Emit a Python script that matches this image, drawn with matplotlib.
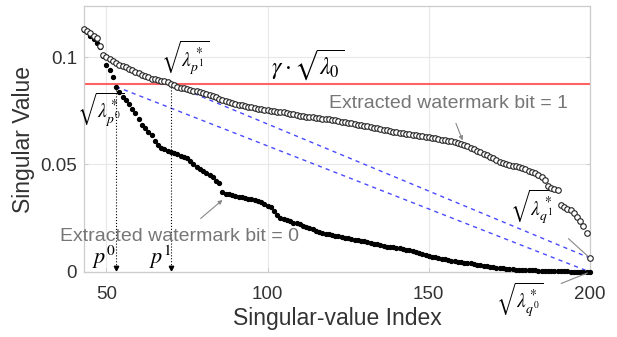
import numpy as np
import matplotlib.pyplot as plt

plt.rcParams['font.family'] = ['Liberation Sans', 'DejaVu Sans']
plt.rcParams['mathtext.fontset'] = 'stix'

# singular-value indices shown on the chart
idx = np.arange(43, 201)

# extracted watermark bit = 1 (open circles)
bit1 = [0.1130, 0.1120, 0.1110, 0.1100, 0.1090, 0.1050, 0.1010, 0.1000, 0.0990, 0.0980,
        0.0970, 0.0965, 0.0960, 0.0953, 0.0946, 0.0940, 0.0932, 0.0925, 0.0917, 0.0910,
        0.0905, 0.0900, 0.0897, 0.0894, 0.0890, 0.0887, 0.0882, 0.0875, 0.0868, 0.0862,
        0.0858, 0.0854, 0.0850, 0.0847, 0.0843, 0.0840, 0.0837, 0.0833, 0.0828, 0.0823,
        0.0818, 0.0812, 0.0806, 0.0800, 0.0796, 0.0791, 0.0786, 0.0782, 0.0779, 0.0775,
        0.0772, 0.0769, 0.0766, 0.0763, 0.0760, 0.0757, 0.0755, 0.0752, 0.0750, 0.0748,
        0.0746, 0.0744, 0.0742, 0.0740, 0.0737, 0.0733, 0.0730, 0.0727, 0.0725, 0.0723,
        0.0721, 0.0719, 0.0717, 0.0715, 0.0713, 0.0711, 0.0710, 0.0708, 0.0705, 0.0702,
        0.0699, 0.0696, 0.0694, 0.0691, 0.0688, 0.0685, 0.0682, 0.0680, 0.0677, 0.0674,
        0.0671, 0.0668, 0.0665, 0.0662, 0.0659, 0.0656, 0.0653, 0.0650, 0.0647, 0.0645,
        0.0642, 0.0640, 0.0637, 0.0635, 0.0633, 0.0631, 0.0629, 0.0627, 0.0624, 0.0622,
        0.0619, 0.0616, 0.0613, 0.0610, 0.0607, 0.0604, 0.0601, 0.0597, 0.0592, 0.0586,
        0.0579, 0.0572, 0.0563, 0.0556, 0.0549, 0.0543, 0.0536, 0.0528, 0.0520, 0.0512,
        0.0507, 0.0503, 0.0499, 0.0495, 0.0491, 0.0487, 0.0482, 0.0477, 0.0472, 0.0466,
        0.0459, 0.0451, 0.0440, 0.0428, 0.0398, 0.0392, 0.0386, 0.0380, 0.0310, 0.0302,
        0.0295, 0.0287, 0.0272, 0.0256, 0.0235, 0.0212, 0.0180, 0.0065]

# extracted watermark bit = 0 (filled dots)
bit0 = [0.1125, 0.1115, 0.1100, 0.1085, 0.1065, 0.1047, 0.1003, 0.0963, 0.0940, 0.0905,
        0.0862, 0.0835, 0.0815, 0.0800, 0.0780, 0.0760, 0.0740, 0.0712, 0.0685, 0.0668,
        0.0652, 0.0635, 0.0610, 0.0590, 0.0577, 0.0570, 0.0563, 0.0558, 0.0553, 0.0547,
        0.0541, 0.0535, 0.0528, 0.0515, 0.0500, 0.0486, 0.0478, 0.0470, 0.0462, 0.0451,
        0.0440, 0.0425, 0.0413, 0.0370, 0.0365, 0.0361, 0.0357, 0.0353, 0.0350, 0.0347,
        0.0344, 0.0341, 0.0338, 0.0335, 0.0331, 0.0325, 0.0318, 0.0308, 0.0300, 0.0285,
        0.0265, 0.0252, 0.0245, 0.0240, 0.0235, 0.0230, 0.0226, 0.0222, 0.0216, 0.0210,
        0.0204, 0.0198, 0.0192, 0.0187, 0.0182, 0.0178, 0.0175, 0.0172, 0.0169, 0.0166,
        0.0163, 0.0160, 0.0157, 0.0154, 0.0151, 0.0148, 0.0145, 0.0142, 0.0139, 0.0136,
        0.0132, 0.0128, 0.0124, 0.0121, 0.0118, 0.0116, 0.0114, 0.0112, 0.0110, 0.0107,
        0.0104, 0.0101, 0.0097, 0.0093, 0.0089, 0.0085, 0.0080, 0.0075, 0.0071, 0.0068,
        0.0065, 0.0062, 0.0059, 0.0056, 0.0053, 0.0050, 0.0048, 0.0046, 0.0044, 0.0042,
        0.0040, 0.0037, 0.0034, 0.0031, 0.0028, 0.0026, 0.0024, 0.0022, 0.0020, 0.0019,
        0.0017, 0.0015, 0.0013, 0.0012, 0.0011, 0.0010, 0.0009, 0.0008, 0.0008, 0.0007,
        0.0007, 0.0006, 0.0006, 0.0005, 0.0005, 0.0004, 0.0004, 0.0004, 0.0003, 0.0003,
        0.0003, 0.0002, 0.0002, 0.0002, 0.0001, 0.0001, 0.0001, 0.0000]

threshold = 0.0873   # gamma * sqrt(lambda_0)
p0 = 53
p1 = 70

bit0 = np.array(bit0)
bit1 = np.array(bit1)
i_p0 = p0 - idx[0]
i_p1 = p1 - idx[0]

fig = plt.figure(figsize=(6.17, 3.37), dpi=100)
ax = fig.add_axes([0.136, 0.193, 0.820, 0.789])

# threshold line
ax.axhline(threshold, color='#ff6262', lw=1.5, zorder=2)

# dashed lines from p to q points
ax.plot([idx[i_p1], idx[-1]], [bit1[i_p1], bit1[-1]], ls=(0, (3, 3)), color='#4a4aff', lw=1, zorder=2)
ax.plot([idx[i_p0], idx[-1]], [bit0[i_p0], bit0[-1]], ls=(0, (3, 3)), color='#4a4aff', lw=1, zorder=2)

# the two series
ax.plot(idx, bit0, 'o', color='black', ms=2.8, zorder=3, clip_on=False)
ax.plot(idx, bit1, 'o', mfc='white', mec='#222222', mew=0.8, ms=4, zorder=4, clip_on=False)

# dotted drops to p0 and p1
for i in (i_p0, i_p1):
    y = bit0[i] if i == i_p0 else bit1[i]
    ax.plot([idx[i], idx[i]], [y, 0.0012], ls=':', color='black', lw=0.8, zorder=2)
    ax.plot(idx[i], 0.0018, marker='v', color='black', ms=3.2, zorder=5)

ax.set_xlim(43, 200)
ax.set_ylim(0, 0.1237)
ax.set_xticks([50, 100, 150, 200])
ax.set_yticks([0, 0.05, 0.1])
ax.set_yticklabels(['0', '0.05', '0.1'])
ax.grid(True, color='#e8e8e8', lw=0.8)
ax.set_axisbelow(True)
for s in ax.spines.values():
    s.set_color('#cccccc')
    s.set_linewidth(0.9)
ax.tick_params(direction='in', length=3, color='#cccccc', labelsize=13.5, labelcolor='#333333',
               right=True, top=False)
ax.tick_params(axis='x', pad=10)
ax.tick_params(axis='y', pad=5)
ax.set_xlabel('Singular-value Index', fontsize=16.5, color='#333333', labelpad=3)
ax.set_ylabel('Singular Value', fontsize=16.5, color='#333333', labelpad=4)

# math annotations
ax.text(112.5, 0.0885, r'$\gamma \cdot \sqrt{\lambda_0}$', fontsize=17, ha='center', va='bottom')
ax.text(74.4, 0.0995, r'$\sqrt{\lambda^*_{p^1}}$', fontsize=14, ha='center', va='center')
ax.text(48.2, 0.0753, r'$\sqrt{\lambda^*_{p^0}}$', fontsize=14, ha='center', va='center')
ax.text(p0, 0.0005, r'$p^0$', fontsize=16, ha='right', va='bottom')
ax.text(p1, 0.0005, r'$p^1$', fontsize=16, ha='right', va='bottom')

ax.annotate(r'$\sqrt{\lambda^*_{q^1}}$', xy=(idx[-1], bit1[-1]), xytext=(182.8, 0.0298),
            fontsize=14, ha='center', va='center',
            arrowprops=dict(arrowstyle='-', color='#888888', lw=0.8, shrinkA=9, shrinkB=2))
ax.annotate(r'$\sqrt{\lambda^*_{q^0}}$', xy=(idx[-1], bit0[-1]), xytext=(178.4, -0.013),
            fontsize=14, ha='center', va='center', annotation_clip=False,
            arrowprops=dict(arrowstyle='-', color='#888888', lw=0.8, shrinkA=11, shrinkB=2))

# bit labels
ax.annotate('Extracted watermark bit = 1', xy=(160.5, 0.0612), xytext=(156, 0.0786),
            fontsize=14, color='#767676', ha='center', va='center',
            arrowprops=dict(arrowstyle='-|>', color='#888888', lw=0.8, mutation_scale=6,
                            shrinkA=7, shrinkB=0))
ax.annotate('Extracted watermark bit = 0', xy=(86.0, 0.0335), xytext=(72.8, 0.0167),
            fontsize=14, color='#767676', ha='center', va='center',
            arrowprops=dict(arrowstyle='-|>', color='#888888', lw=0.8, mutation_scale=6,
                            shrinkA=7, shrinkB=0))

fig.savefig('out.png', dpi=100)
